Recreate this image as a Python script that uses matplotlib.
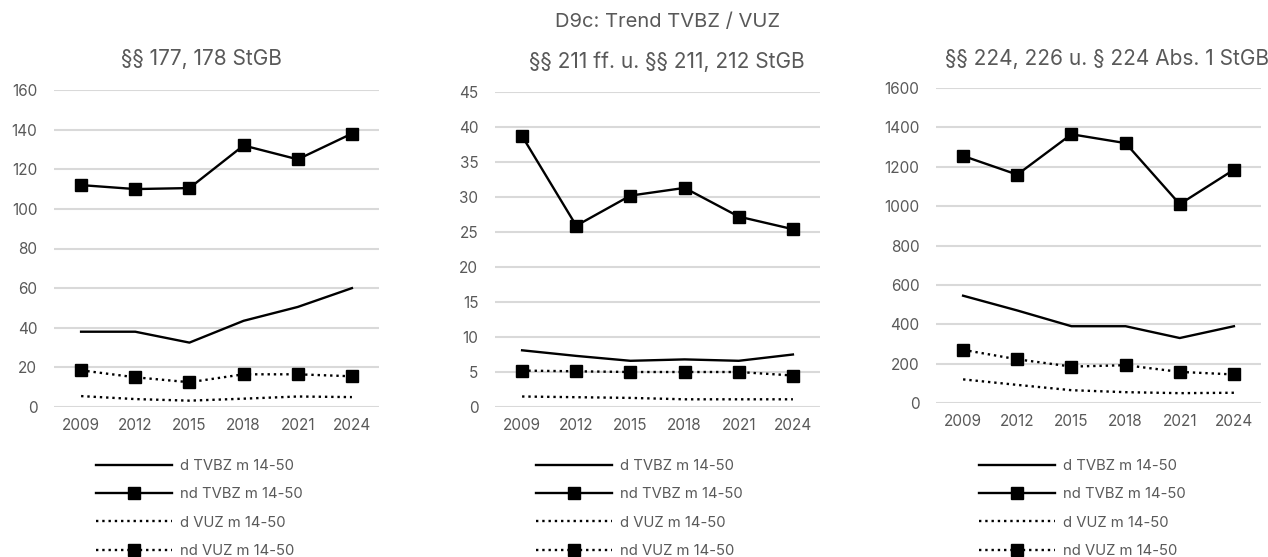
import matplotlib
matplotlib.use('Agg')
import matplotlib.pyplot as plt
from matplotlib.lines import Line2D

plt.rcParams['font.family'] = ['Inter', 'DejaVu Sans']

years = ['2009', '2012', '2015', '2018', '2021', '2024']
series_labels = ['d TVBZ m 14-50', 'nd TVBZ m 14-50', 'd VUZ m 14-50', 'nd VUZ m 14-50']

# §§ 177, 178 StGB
p1_d_tvbz = [38, 38, 32.5, 43.5, 50.5, 60]
p1_nd_tvbz = [112, 110, 110.5, 132, 125, 138]
p1_d_vuz = [5.5, 4, 3.2, 4.2, 5.3, 5]
p1_nd_vuz = [18.5, 15, 12.5, 16.5, 16.5, 15.5]

# §§ 211 ff. u. §§ 211, 212 StGB
p2_d_tvbz = [8.1, 7.3, 6.6, 6.8, 6.6, 7.5]
p2_nd_tvbz = [38.7, 25.9, 30.2, 31.3, 27.2, 25.4]
p2_d_vuz = [1.5, 1.4, 1.3, 1.1, 1.1, 1.1]
p2_nd_vuz = [5.2, 5.1, 5.0, 5.0, 5.0, 4.5]

# §§ 224, 226 u. § 224 Abs. 1 StGB
p3_d_tvbz = [545, 470, 390, 390, 330, 390]
p3_nd_tvbz = [1255, 1160, 1365, 1320, 1010, 1185]
p3_d_vuz = [120, 92, 65, 55, 50, 52]
p3_nd_vuz = [270, 222, 185, 192, 158, 145]

panels = [
    ('§§ 177, 178 StGB', (p1_d_tvbz, p1_nd_tvbz, p1_d_vuz, p1_nd_vuz), 160, 20),
    ('§§ 211 ff. u. §§ 211, 212 StGB', (p2_d_tvbz, p2_nd_tvbz, p2_d_vuz, p2_nd_vuz), 45, 5),
    ('§§ 224, 226 u. § 224 Abs. 1 StGB', (p3_d_tvbz, p3_nd_tvbz, p3_d_vuz, p3_nd_vuz), 1600, 200),
]

W, H = 1268, 557
fig = plt.figure(figsize=(W / 100, H / 100), dpi=100)

# axes boxes in pixels: left, top, right, bottom
boxes = [(54, 90, 379, 407), (495, 92, 820, 407), (936, 88, 1261, 403)]
title_pos = [(201, 59), (667, 62), (1107, 59)]
legend_x = [95, 535, 978]
grey = '#595959'

styles = [
    dict(linestyle='-', marker=None),
    dict(linestyle='-', marker='s'),
    dict(linestyle=':', marker=None),
    dict(linestyle=':', marker='s'),
]

for (title, data, ymax, step), (l, t, r, b), (tx, ty), lx in zip(panels, boxes, title_pos, legend_x):
    ax = fig.add_axes([l / W, 1 - b / H, (r - l) / W, (b - t) / H])
    x = list(range(len(years)))
    for vals, st in zip(data, styles):
        ax.plot(x, vals, color='black', linewidth=1.7, linestyle=st['linestyle'],
                marker=st['marker'], markersize=8.5, zorder=3)
    ax.set_xlim(-0.5, len(years) - 0.5)
    ax.set_ylim(0, ymax)
    ax.set_yticks(range(0, ymax + 1, step))
    ax.set_xticks(x)
    ax.set_xticklabels(years)
    ax.grid(axis='y', color='#d9d9d9', linewidth=1.5)
    ax.set_axisbelow(True)
    for s in ax.spines.values():
        s.set_visible(False)
    ax.tick_params(length=0, labelsize=11, colors=grey, pad=8)
    ax.tick_params(axis='y', pad=12)
    fig.text(tx / W, 1 - ty / H, title, ha='center', va='center', fontsize=15, color=grey)

    handles = [Line2D([], [], color='black', linewidth=1.7, linestyle=st['linestyle'],
                      marker=st['marker'], markersize=8.5) for st in styles]
    fig.legend(handles, series_labels, loc='upper left',
               bbox_to_anchor=((lx - 12) / W, 1 - 446 / H), frameon=False,
               fontsize=10.7, labelcolor=grey, handlelength=5.1, handletextpad=0.5,
               labelspacing=0.95)

fig.text(668 / W, 1 - 22 / H, 'D9c: Trend TVBZ / VUZ', ha='center', va='center',
         fontsize=14.5, color=grey)

fig.savefig('out.png', dpi=100, facecolor='white')
